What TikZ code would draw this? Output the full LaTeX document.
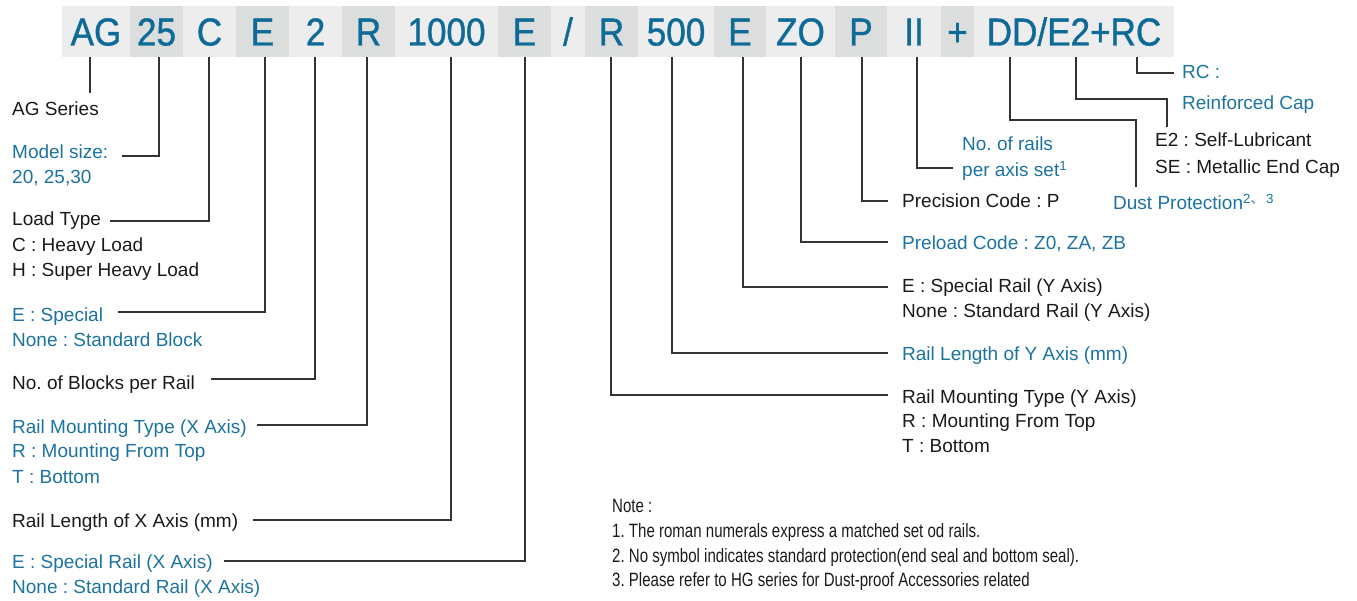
\documentclass[tikz,border=0pt]{standalone}
\usepackage{fontspec}
\setmainfont{Liberation Sans}
\newfontfamily\hdrfont[FakeStretch=0.9,FakeBold=1]{Liberation Sans}
\newfontfamily\notefont[FakeStretch=0.78]{Liberation Sans}
\newfontfamily\cjk{Noto Sans CJK SC}
\definecolor{txt}{HTML}{1A1A1A}
\definecolor{blu}{HTML}{1C73A0}
\definecolor{hblu}{HTML}{0E6B97}
\definecolor{cellL}{HTML}{EDEDED}
\definecolor{cellD}{HTML}{DCDEDD}
\definecolor{lnc}{HTML}{333333}
\frenchspacing
\begin{document}
\begin{tikzpicture}[x=1pt,y=-1pt,
  cell/.style={anchor=center, inner sep=0pt, minimum height=51pt, text height=28pt, text depth=0pt,
    font=\hdrfont\fontsize{39}{39}\selectfont, text=hblu},
  lt/.style={cell, fill=cellL},
  dk/.style={cell, fill=cellD},
  lbl/.style={anchor=base west, inner sep=0pt, font=\fontsize{19}{23}\selectfont, text=txt},
  blbl/.style={lbl, text=blu},
  nlbl/.style={anchor=base west, inner sep=0pt, font=\notefont\fontsize{19.3}{22}\selectfont, text=txt},
  conn/.style={draw=lnc, line width=1.4pt}]
\useasboundingbox (0,0) rectangle (1357,601);
% header cells
\node[lt, minimum width=68pt] (c1) at (96,31.5) {AG};
\node[dk, minimum width=53pt] (c2) at (156.5,31.5) {25};
\node[lt, minimum width=53pt] (c3) at (209.5,31.5) {C};
\node[dk, minimum width=53pt] (c4) at (262.5,31.5) {E};
\node[lt, minimum width=53pt] (c5) at (315.5,31.5) {2};
\node[dk, minimum width=53pt] (c6) at (368.5,31.5) {R};
\node[lt, minimum width=103pt] (c7) at (446.5,31.5) {1000};
\node[dk, minimum width=53pt] (c8) at (524.5,31.5) {E};
\node[lt, minimum width=34pt] (c9) at (568,31.5) {/};
\node[dk, minimum width=53pt] (c10) at (611.5,31.5) {R};
\node[lt, minimum width=76pt] (c11) at (676,31.5) {500};
\node[dk, minimum width=52pt] (c12) at (740,31.5) {E};
\node[lt, minimum width=69pt] (c13) at (800.5,31.5) {ZO};
\node[dk, minimum width=52pt] (c14) at (861,31.5) {P};
\node[lt, minimum width=54pt] (c15) at (914,31.5) {II};
\node[dk, minimum width=33pt] (c16) at (957.5,31.5) {+};
\node[lt, minimum width=200pt] (c17) at (1074,31.5) {DD/E2+RC};
% tick tops
\coordinate (tAG) at (90,57);
\coordinate (t25) at (159,57);
\coordinate (tC) at (209,57);
\coordinate (tE) at (265,57);
\coordinate (t2) at (315,57);
\coordinate (tR) at (367,57);
\coordinate (t1000) at (451,57);
\coordinate (tEx) at (525,57);
\coordinate (tRy) at (611,57);
\coordinate (t500) at (672,57);
\coordinate (tEy) at (743,57);
\coordinate (tZO) at (801,57);
\coordinate (tP) at (862,57);
\coordinate (tII) at (917,57);
\coordinate (tDD) at (1010,57);
\coordinate (tE2) at (1076,57);
\coordinate (tRC) at (1137,57);
% ends
\coordinate (eAG) at (90,93);
\coordinate (e25) at (122,156);
\coordinate (eC) at (110,221);
\coordinate (eE) at (118,312);
\coordinate (e2) at (211,379);
\coordinate (eR) at (257,425);
\coordinate (e1000) at (253,520);
\coordinate (eEx) at (224,561);
\coordinate (eRy) at (888,395);
\coordinate (e500) at (888,353);
\coordinate (eEy) at (888,287);
\coordinate (eZO) at (888,242);
\coordinate (eP) at (888,201);
\coordinate (eII) at (953,168);
\coordinate (kDD) at (1136,120);
\coordinate (eDD) at (1136,187);
\coordinate (kE2) at (1167,99);
\coordinate (eE2) at (1167,127);
\coordinate (eRC) at (1174,73);
% connectors
\draw[conn] (tAG) -- (eAG);
\draw[conn] (t25) |- (e25);
\draw[conn] (tC) |- (eC);
\draw[conn] (tE) |- (eE);
\draw[conn] (t2) |- (e2);
\draw[conn] (tR) |- (eR);
\draw[conn] (t1000) |- (e1000);
\draw[conn] (tEx) |- (eEx);
\draw[conn] (tRy) |- (eRy);
\draw[conn] (t500) |- (e500);
\draw[conn] (tEy) |- (eEy);
\draw[conn] (tZO) |- (eZO);
\draw[conn] (tP) |- (eP);
\draw[conn] (tII) |- (eII);
\draw[conn] (tDD) |- (kDD) -- (eDD);
\draw[conn] (tE2) |- (kE2) -- (eE2);
\draw[conn] (tRC) |- (eRC);
% left labels
\node[lbl] (l1) at (12,116) {AG Series};
\node[blbl] (l2a) at (12,159) {Model size:};
\node[blbl] (l2b) at (12,184) {20, 25,30};
\node[lbl] (l3a) at (12,226) {Load Type};
\node[lbl] (l3b) at (12,252) {C : Heavy Load};
\node[lbl] (l3c) at (12,277) {H : Super Heavy Load};
\node[blbl] (l4a) at (12,322) {E : Special};
\node[blbl] (l4b) at (12,347) {None : Standard Block};
\node[lbl] (l5) at (12,389) {No. of Blocks per Rail};
\node[blbl] (l6a) at (12,433) {Rail Mounting Type (X Axis)};
\node[blbl] (l6b) at (12,457) {R : Mounting From Top};
\node[blbl] (l6c) at (12,483) {T : Bottom};
\node[lbl] (l7) at (12,527) {Rail Length of X Axis (mm)};
\node[blbl] (l8a) at (12,568) {E : Special Rail (X Axis)};
\node[blbl] (l8b) at (12,593) {None : Standard Rail (X Axis)};
% right labels
\node[blbl] (r1a) at (1182,79) {RC :};
\node[blbl] (r1b) at (1182,110) {Reinforced Cap};
\node[lbl] (r2a) at (1155,147) {E2 : Self-Lubricant};
\node[lbl] (r2b) at (1155,174) {SE : Metallic End Cap};
\node[blbl] (r3a) at (962,151) {No. of rails};
\node[blbl] (r3b) at (962,177) {per axis set\textsuperscript{1}};
\node[blbl] (r4) at (1113,210) {Dust Protection\textsuperscript{2{\cjk 、}\,3}};
\node[lbl] (r5) at (902,208) {Precision Code : P};
\node[blbl] (r6) at (902,250) {Preload Code : Z0, ZA, ZB};
\node[lbl] (r7a) at (902,293) {E : Special Rail (Y Axis)};
\node[lbl] (r7b) at (902,318) {None : Standard Rail (Y Axis)};
\node[blbl] (r8) at (902,360) {Rail Length of Y Axis (mm)};
\node[lbl] (r9a) at (902,403) {Rail Mounting Type (Y Axis)};
\node[lbl] (r9b) at (902,427) {R : Mounting From Top};
\node[lbl] (r9c) at (902,452) {T : Bottom};
% notes
\node[nlbl] (n0) at (612,512) {Note :};
\node[nlbl] (n1) at (612,537) {1. The roman numerals express a matched set od rails.};
\node[nlbl] (n2) at (612,562) {2. No symbol indicates standard protection(end seal and bottom seal).};
\node[nlbl] (n3) at (612,586) {3. Please refer to HG series for Dust-proof Accessories related};
\end{tikzpicture}
\end{document}
